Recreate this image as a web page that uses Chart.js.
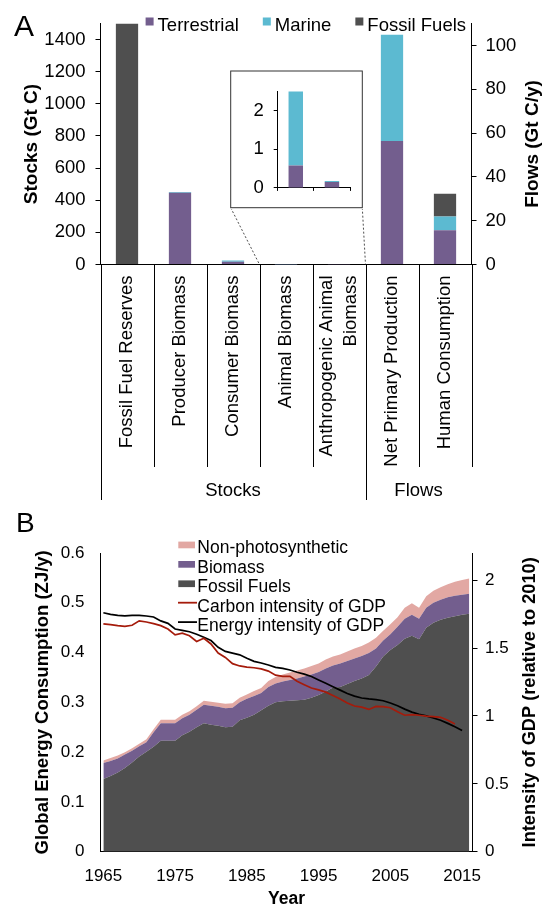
<!DOCTYPE html>
<html>
<head>
<meta charset="utf-8">
<script src="https://cdn.jsdelivr.net/npm/chart.js@4.4.0/dist/chart.umd.min.js"></script>
<style>
  body { margin: 0; width: 547px; height: 908px; overflow: hidden; background: #fff; position: relative;
         font-family: "Liberation Sans", Arial, sans-serif; }
  canvas { position: absolute; left: 0; }
  #chartA { top: 0; }
  #chartB { top: 500px; }
  #inset { left: 230px; top: 70px; }
  .letter { position: absolute; line-height: 30px; color: #000; }
</style>
</head>
<body>
<canvas id="chartA" width="547" height="505"></canvas>
<canvas id="inset" width="133" height="139"></canvas>
<canvas id="chartB" width="547" height="408"></canvas>
<div class="letter" style="left:14px;top:11px;font-size:30px">A</div>
<div class="letter" style="left:16px;top:508px;font-size:28px">B</div>
<script>
// ---------- panel A: carbon stocks and flows ----------
const categories = ['Fossil Fuel Reserves', 'Producer Biomass', 'Consumer Biomass', 'Animal Biomass',
  ['Anthropogenic Animal', 'Biomass'], 'Net Primary Production', 'Human Consumption'];
const groups = ['Stocks', 'Flows'];
const groupSizes = [5, 2];
const terrestrial = [0, 447, 17, 0.58, 0.15, 56.4, 15.6];
const marine = [0, 4, 8, 1.91, 0.03, 48.5, 6.3];
const fossilA = [1500, 0, 0, 0, 0, 0, 10.4];
const insetIdx = [3, 4];

// ---------- panel B: global energy consumption ----------
const years = [
  1965, 1966, 1967, 1968, 1969, 1970, 1971, 1972, 1973, 1974,
  1975, 1976, 1977, 1978, 1979, 1980, 1981, 1982, 1983, 1984,
  1985, 1986, 1987, 1988, 1989, 1990, 1991, 1992, 1993, 1994,
  1995, 1996, 1997, 1998, 1999, 2000, 2001, 2002, 2003, 2004,
  2005, 2006, 2007, 2008, 2009, 2010, 2011, 2012, 2013, 2014,
  2015, 2016];
const fossilFuels = [
  0.146, 0.152, 0.159, 0.168, 0.179, 0.191, 0.201, 0.211, 0.223, 0.223,
  0.223, 0.234, 0.241, 0.250, 0.258, 0.255, 0.253, 0.250, 0.251, 0.264,
  0.269, 0.275, 0.284, 0.293, 0.300, 0.302, 0.303, 0.304, 0.305, 0.309,
  0.315, 0.322, 0.330, 0.331, 0.337, 0.343, 0.348, 0.355, 0.372, 0.392,
  0.405, 0.415, 0.428, 0.434, 0.427, 0.450, 0.460, 0.466, 0.470, 0.473,
  0.476, 0.478];
const biomass = [
  0.032, 0.030, 0.028, 0.027, 0.024, 0.021, 0.019, 0.029, 0.035, 0.035,
  0.035, 0.034, 0.034, 0.035, 0.037, 0.038, 0.038, 0.038, 0.038, 0.036,
  0.038, 0.038, 0.035, 0.038, 0.038, 0.040, 0.042, 0.044, 0.047, 0.047,
  0.046, 0.046, 0.044, 0.047, 0.046, 0.045, 0.045, 0.044, 0.036, 0.032,
  0.032, 0.037, 0.040, 0.042, 0.041, 0.040, 0.040, 0.040, 0.041, 0.041,
  0.040, 0.040];
const nonPhoto = [
  0.005, 0.006, 0.006, 0.005, 0.005, 0.005, 0.006, 0.006, 0.007, 0.007,
  0.007, 0.007, 0.007, 0.007, 0.008, 0.008, 0.008, 0.009, 0.009, 0.009,
  0.009, 0.010, 0.010, 0.012, 0.013, 0.014, 0.015, 0.016, 0.016, 0.017,
  0.017, 0.018, 0.018, 0.018, 0.019, 0.020, 0.020, 0.021, 0.022, 0.020,
  0.020, 0.019, 0.022, 0.023, 0.022, 0.023, 0.024, 0.025, 0.026, 0.028,
  0.030, 0.031];
const carbonIntensity = [
  1.678, 1.672, 1.665, 1.660, 1.668, 1.700, 1.692, 1.680, 1.665, 1.640,
  1.597, 1.609, 1.590, 1.548, 1.572, 1.530, 1.463, 1.431, 1.385, 1.368,
  1.360, 1.355, 1.346, 1.330, 1.300, 1.292, 1.292, 1.255, 1.230, 1.206,
  1.192, 1.175, 1.150, 1.125, 1.095, 1.073, 1.065, 1.048, 1.070, 1.068,
  1.060, 1.030, 1.005, 1.010, 1.005, 0.999, 0.995, 0.990, 0.968, 0.940,
  null, null];
const energyIntensity = [
  1.760, 1.748, 1.740, 1.737, 1.740, 1.741, 1.736, 1.729, 1.700, 1.682,
  1.640, 1.630, 1.620, 1.602, 1.580, 1.555, 1.505, 1.475, 1.462, 1.450,
  1.425, 1.402, 1.390, 1.375, 1.358, 1.350, 1.338, 1.322, 1.308, 1.290,
  1.265, 1.240, 1.215, 1.190, 1.165, 1.146, 1.132, 1.125, 1.120, 1.112,
  1.095, 1.075, 1.050, 1.028, 1.012, 1.000, 0.985, 0.968, 0.945, 0.920,
  0.892, null];
const yearTicks = [1965, 1975, 1985, 1995, 2005, 2015];

const PURPLE = '#735e8e', CYAN = '#5cbad1', DARK = '#4f4f4f', PINK = '#e2a8a3', RED = '#a51b0b';
const FONT = '"Liberation Sans", Arial, sans-serif';

Chart.defaults.font.family = FONT;
Chart.defaults.color = '#000';
Chart.defaults.animation = false;
Chart.defaults.plugins.legend.display = false;
Chart.defaults.plugins.tooltip.enabled = false;

const plain = v => String(v);

// right-hand titles read bottom-to-top like the left ones
function sideTitle(ctx, text, x, y, size) {
  ctx.save();
  ctx.translate(x, y);
  ctx.rotate(-Math.PI / 2);
  ctx.font = 'bold ' + size + 'px ' + FONT;
  ctx.textAlign = 'center';
  ctx.textBaseline = 'middle';
  ctx.fillStyle = '#000';
  ctx.fillText(text, 0, 0);
  ctx.restore();
}

// ---------- chart A ----------
const nStocks = groupSizes[0];
const pick = (arr, flow) => arr.map((v, i) => ((i >= nStocks) === flow ? v : null));
const seriesA = [['Terrestrial', terrestrial, PURPLE], ['Marine', marine, CYAN], ['Fossil Fuels', fossilA, DARK]];
const dsA = [];
[false, true].forEach(flow => seriesA.forEach(([label, arr, color]) => dsA.push({
  label, data: pick(arr, flow), backgroundColor: color, yAxisID: flow ? 'y1' : 'y',
  stack: 's', barPercentage: 0.42, categoryPercentage: 1
})));

const panelA = {
  id: 'panelA',
  afterDraw(chart) {
    const { ctx, chartArea: ca, scales: { x } } = chart;
    const edge = i => x.getPixelForValue(i - 0.5);
    const groupEdges = [0];
    groupSizes.reduce((a, n) => { groupEdges.push(a + n); return a + n; }, 0);
    ctx.save();
    ctx.strokeStyle = '#000';
    ctx.lineWidth = 1;
    for (let i = 0; i <= categories.length; i++) {
      const px = Math.round(edge(i)) + 0.5;
      const long = groupEdges.includes(i) && i < categories.length;
      ctx.beginPath();
      ctx.moveTo(px, ca.bottom);
      ctx.lineTo(px, long ? 500 : 467);
      ctx.stroke();
    }
    ctx.font = '18.5px ' + FONT;
    ctx.fillStyle = '#000';

    // category names, rotated, lines centred on the category
    ctx.textAlign = 'right';
    ctx.textBaseline = 'middle';
    categories.forEach((c, i) => {
      const lines = [].concat(c);
      lines.forEach((t, j) => {
        ctx.save();
        ctx.translate(x.getPixelForValue(i) + (j - (lines.length - 1) / 2) * 24, ca.bottom + 11);
        ctx.rotate(-Math.PI / 2);
        ctx.fillText(t, 0, 0);
        ctx.restore();
      });
    });

    ctx.textAlign = 'center';
    ctx.textBaseline = 'alphabetic';
    groups.forEach((g, k) => ctx.fillText(g, (edge(groupEdges[k]) + edge(groupEdges[k + 1])) / 2, 495.5));

    // dotted lines from the inset frame to the zoomed categories
    ctx.setLineDash([2, 2]);
    ctx.lineWidth = 0.8;
    ctx.strokeStyle = '#222';
    ctx.beginPath();
    ctx.moveTo(230.7, 207.7); ctx.lineTo(edge(insetIdx[0]), ca.bottom);
    ctx.moveTo(362.3, 207.7); ctx.lineTo(edge(insetIdx[insetIdx.length - 1] + 1), ca.bottom);
    ctx.stroke();
    ctx.setLineDash([]);

    // legend
    let lx = 145.6;
    ctx.textAlign = 'left';
    seriesA.forEach(([label, , color]) => {
      ctx.fillStyle = color;
      ctx.fillRect(lx, 17.5, 8, 8);
      ctx.fillStyle = '#000';
      ctx.fillText(label, lx + 12, 31);
      lx += 12 + ctx.measureText(label).width + 24;
    });
    ctx.restore();
    sideTitle(ctx, 'Flows (Gt C/y)', 533, (ca.top + ca.bottom) / 2, 19);
  }
};

new Chart(document.getElementById('chartA'), {
  type: 'bar',
  data: { labels: categories, datasets: dsA },
  options: {
    responsive: false,
    layout: { padding: { top: 23.5, right: 0, bottom: 0, left: 0 } },
    scales: {
      x: {
        stacked: true,
        grid: { display: false },
        border: { display: true, color: '#000' },
        ticks: { display: false },
        afterFit: s => { s.height = 240.5; }
      },
      y: {
        stacked: true, position: 'left', min: 0, max: 1500,
        ticks: { stepSize: 200, includeBounds: false, padding: 10, font: { size: 18.5 }, callback: plain },
        grid: { drawOnChartArea: false, tickLength: 5, color: '#000' },
        border: { color: '#000' },
        title: { display: true, text: 'Stocks (Gt C)', font: { size: 19, weight: 'bold' }, padding: { top: 20 } },
        afterFit: s => { s.width = 100.5; }
      },
      y1: {
        stacked: true, position: 'right', min: 0, max: 110,
        ticks: { stepSize: 20, includeBounds: false, padding: 9, font: { size: 18.5 }, callback: plain },
        grid: { drawOnChartArea: false, tickLength: 5, color: '#000' },
        border: { color: '#000' },
        afterFit: s => { s.width = 75.5; }
      }
    }
  },
  plugins: [panelA]
});

// ---------- inset ----------
const frame = {
  id: 'frame',
  beforeDraw(chart) {
    const { ctx } = chart;
    ctx.save();
    ctx.fillStyle = '#fff';
    ctx.fillRect(0, 0, chart.width, chart.height);
    ctx.strokeStyle = '#333';
    ctx.lineWidth = 1;
    ctx.strokeRect(0.7, 1, 131.6, 136.7);
    ctx.restore();
  }
};

new Chart(document.getElementById('inset'), {
  type: 'bar',
  data: {
    labels: insetIdx.map(i => categories[i]),
    datasets: [
      { label: 'Terrestrial', data: insetIdx.map(i => terrestrial[i]), backgroundColor: PURPLE },
      { label: 'Marine', data: insetIdx.map(i => marine[i]), backgroundColor: CYAN }
    ]
  },
  options: {
    responsive: false,
    barPercentage: 0.4,
    categoryPercentage: 1,
    layout: { padding: { top: 16.7, right: 13, left: 0, bottom: 0 } },
    scales: {
      x: {
        stacked: true,
        ticks: { display: false },
        grid: { drawOnChartArea: false, tickLength: 3, color: '#000' },
        border: { color: '#000' },
        afterFit: s => { s.height = 15.7; }
      },
      y: {
        stacked: true, min: 0, max: 2.5,
        ticks: { stepSize: 1, includeBounds: false, padding: 10, font: { size: 18.5 }, callback: plain },
        grid: { drawOnChartArea: false, tickLength: 4, color: '#000' },
        border: { color: '#000' },
        afterFit: s => { s.width = 47.7; }
      }
    }
  },
  plugins: [frame]
});

// ---------- chart B ----------
const legendOrder = ['Non-photosynthetic', 'Biomass', 'Fossil Fuels', 'Carbon intensity of GDP', 'Energy intensity of GDP'];
const area = (label, data, color, fill) => ({
  label, data, yAxisID: 'y', backgroundColor: color, borderColor: color, borderWidth: 0,
  pointRadius: 0, fill, tension: 0
});
const line = (label, data, color) => ({
  label, data, yAxisID: 'y1', borderColor: color, backgroundColor: color, borderWidth: 1.7,
  pointRadius: 0, fill: false, tension: 0
});

const panelB = {
  id: 'panelB',
  afterDraw(chart) {
    const { ctx, chartArea: ca } = chart;
    ctx.save();
    ctx.font = '17.5px ' + FONT;
    ctx.textAlign = 'left';
    ctx.textBaseline = 'alphabetic';
    legendOrder.forEach((label, k) => {
      const ds = chart.data.datasets.find(d => d.label === label);
      const base = 53.3 + k * 19.4;
      if (ds.fill) {
        ctx.fillStyle = ds.backgroundColor;
        ctx.fillRect(178.3, base - 11.7, 16.7, 6.7);
      } else {
        ctx.strokeStyle = ds.borderColor;
        ctx.lineWidth = 1.8;
        ctx.beginPath();
        ctx.moveTo(178, base - 8.8);
        ctx.lineTo(197, base - 8.8);
        ctx.stroke();
      }
      ctx.fillStyle = '#000';
      ctx.fillText(label, 197.3, base);
    });
    ctx.restore();
    sideTitle(ctx, 'Intensity of GDP (relative to 2010)', 529.5, (ca.top + ca.bottom) / 2, 18.2);
  }
};

new Chart(document.getElementById('chartB'), {
  type: 'line',
  data: {
    labels: years,
    datasets: [
      line('Carbon intensity of GDP', carbonIntensity, RED),
      line('Energy intensity of GDP', energyIntensity, '#000'),
      area('Fossil Fuels', fossilFuels, DARK, 'origin'),
      area('Biomass', biomass, PURPLE, '-1'),
      area('Non-photosynthetic', nonPhoto, PINK, '-1')
    ]
  },
  options: {
    responsive: false,
    layout: { padding: { top: 53, right: 0, bottom: 0, left: 0 } },
    scales: {
      x: {
        type: 'linear', min: 1964.6, max: 2016.45,
        afterBuildTicks: s => { s.ticks = yearTicks.map(v => ({ value: v })); },
        ticks: { callback: plain, padding: 6, maxRotation: 0, font: { size: 17 } },
        grid: { display: false },
        border: { display: true, color: '#000' },
        title: { display: true, text: 'Year', font: { size: 17.5, weight: 'bold', lineHeight: 1 }, padding: { top: 0, bottom: 0 } },
        afterFit: s => { s.height = 56.3; }
      },
      y: {
        stacked: true, position: 'left', min: 0, max: 0.6,
        ticks: { stepSize: 0.1, padding: 8, font: { size: 17 }, callback: v => (v === 0 ? '0' : v.toFixed(1)) },
        grid: { display: false },
        border: { display: true, color: '#000' },
        title: { display: true, text: 'Global Energy Consumption (ZJ/y)', font: { size: 18.5, weight: 'bold' }, padding: { top: 32 } },
        afterFit: s => { s.width = 100.5; }
      },
      y1: {
        position: 'right', min: 0, max: 2.2,
        ticks: { stepSize: 0.5, includeBounds: false, padding: 7.5, font: { size: 17 }, callback: plain },
        grid: { drawOnChartArea: false, tickLength: 5, color: '#000' },
        border: { color: '#000' },
        afterFit: s => { s.width = 74.5; }
      }
    }
  },
  plugins: [panelB]
});
</script>
</body>
</html>
